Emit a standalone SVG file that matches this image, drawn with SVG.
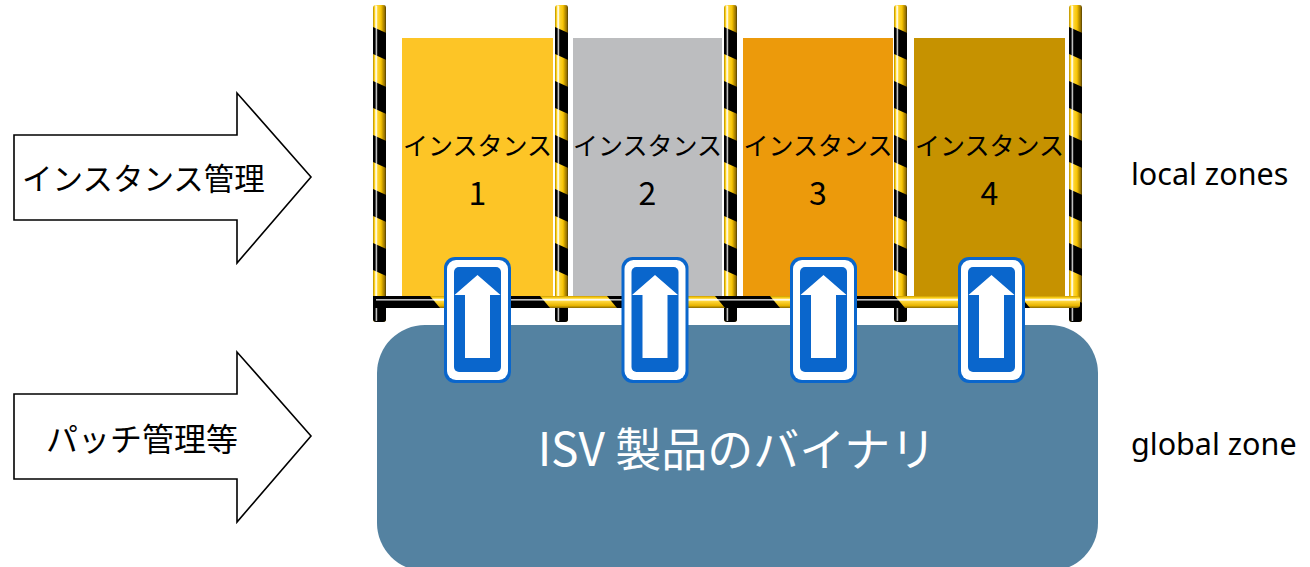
<svg xmlns="http://www.w3.org/2000/svg" width="1310" height="567" viewBox="0 0 1310 567">
  <defs>
    <style>
      .jp { font-family: "Noto Sans CJK JP", "Noto Sans", sans-serif; fill: #000; }
      .lbl { font-family: "Noto Sans", "Open Sans", sans-serif; font-size: 30.5px; fill: #000; }
      .inst { font-family: "Noto Sans CJK JP", "Noto Sans", sans-serif; font-size: 25px; fill: #000; text-anchor: middle; }
      .num { font-size: 32px; }
      .bigarrow { fill: #fff; stroke: #000; stroke-width: 1.6; stroke-linejoin: miter; }
      .sign-outer { fill: #0a66cc; }
      .sign-white { fill: #fff; }
    </style>
    <!-- pole shading across its width -->
    <linearGradient id="poleShade" x1="0" y1="0" x2="1" y2="0">
      <stop offset="0" stop-color="#b08a00"/>
      <stop offset="0.12" stop-color="#ffd21a"/>
      <stop offset="0.22" stop-color="#fff6c0"/>
      <stop offset="0.32" stop-color="#ffd83a"/>
      <stop offset="0.65" stop-color="#f6c200"/>
      <stop offset="0.9" stop-color="#c99700"/>
      <stop offset="1" stop-color="#7d6000"/>
    </linearGradient>
    <linearGradient id="poleDark" x1="0" y1="0" x2="1" y2="0">
      <stop offset="0" stop-color="#000" stop-opacity="0"/>
      <stop offset="0.6" stop-color="#000" stop-opacity="0"/>
      <stop offset="1" stop-color="#000" stop-opacity="0.35"/>
    </linearGradient>
    <!-- bar shading top to bottom -->
    <linearGradient id="barShade" x1="0" y1="0" x2="0" y2="1">
      <stop offset="0" stop-color="#c99a00"/>
      <stop offset="0.15" stop-color="#ffd21a"/>
      <stop offset="0.3" stop-color="#fff2b0"/>
      <stop offset="0.45" stop-color="#ffd63a"/>
      <stop offset="0.8" stop-color="#e8b400"/>
      <stop offset="1" stop-color="#8a6a00"/>
    </linearGradient>
    <!-- diagonal black bands on the poles -->
    <pattern id="poleStripes" patternUnits="userSpaceOnUse" x="0" y="27" width="20" height="54">
      <polygon points="0,0 20,9 20,36 0,27" fill="#000"/>
    </pattern>
    <!-- a single striped pole, 13px wide -->
    <g id="pole">
      <rect x="0" y="5" width="13" height="317" rx="3" fill="url(#poleShade)"/>
      <rect x="0" y="5" width="13" height="317" rx="3" fill="url(#poleStripes)"/>
      <rect x="2.6" y="6" width="1.6" height="315" fill="#fff" opacity="0.75"/>
      <rect x="0" y="5" width="13" height="317" rx="3" fill="url(#poleDark)"/>
    </g>
    <!-- one-way sign with an up arrow, centred on x=0 -->
    <g id="sign">
      <rect class="sign-outer" x="-33.5" y="257" width="67" height="126" rx="11"/>
      <rect class="sign-white" x="-30.5" y="260" width="61" height="120" rx="9"/>
      <rect class="sign-outer" x="-23.5" y="267" width="47" height="105" rx="5"/>
      <polygon class="sign-white" points="0,275 23,295 12.5,295 12.5,358 -12.5,358 -12.5,295 -23,295"/>
    </g>
  </defs>

  <!-- global zone base -->
  <g id="global-zone">
    <rect x="377" y="325" width="721" height="246" rx="48" fill="#5482a1"/>
    <text x="737" y="466" font-family="Noto Sans CJK JP, Noto Sans, sans-serif" font-size="46" fill="#fff" text-anchor="middle">ISV 製品のバイナリ</text>
  </g>

  <!-- instance panels -->
  <g id="instance-1">
    <rect x="402" y="38" width="151" height="262" fill="#fdc526"/>
    <text class="inst" x="477.5" y="155">インスタンス</text>
    <text class="inst num" x="477.5" y="205">1</text>
  </g>
  <g id="instance-2">
    <rect x="573" y="38" width="149" height="262" fill="#bcbdbf"/>
    <text class="inst" x="647.5" y="155">インスタンス</text>
    <text class="inst num" x="647.5" y="205">2</text>
  </g>
  <g id="instance-3">
    <rect x="743" y="38" width="150" height="262" fill="#ec9a0b"/>
    <text class="inst" x="818" y="155">インスタンス</text>
    <text class="inst num" x="818" y="205">3</text>
  </g>
  <g id="instance-4">
    <rect x="914" y="38" width="151" height="262" fill="#c69200"/>
    <text class="inst" x="989.5" y="155">インスタンス</text>
    <text class="inst num" x="989.5" y="205">4</text>
  </g>

  <!-- fence: striped poles and the striped crossbar -->
  <g id="fence">
    <use href="#pole" transform="translate(373,0)"/>
    <use href="#pole" transform="translate(555,0)"/>
    <use href="#pole" transform="translate(724,0)"/>
    <use href="#pole" transform="translate(894,0)"/>
    <use href="#pole" transform="translate(1069,0)"/>
    <g id="crossbar">
      <rect x="373" y="296" width="707" height="12" rx="3" fill="url(#barShade)"/>
      <polygon points="373,296 430,296 440,308 373,308" fill="#000"/>
      <polygon points="498,296 540,296 550,308 508,308" fill="#000"/>
      <polygon points="607,296 655,296 665,308 617,308" fill="#000"/>
      <polygon points="715,296 770,296 780,308 725,308" fill="#000"/>
      <polygon points="840,296 895,296 905,308 850,308" fill="#000"/>
      <polygon points="965,296 1020,296 1030,308 975,308" fill="#000"/>
      <rect x="376" y="299" width="700" height="1.6" fill="#fff" opacity="0.75"/>
    </g>
  </g>

  <!-- one-way signs between the zones -->
  <g id="signs">
    <use href="#sign" transform="translate(477.5,0)"/>
    <use href="#sign" transform="translate(655,0)"/>
    <use href="#sign" transform="translate(823.5,0)"/>
    <use href="#sign" transform="translate(991.5,0)"/>
  </g>

  <!-- block arrows on the left -->
  <g id="arrow-instance-mgmt">
    <polygon class="bigarrow" points="14,135 237,135 237,93 311,177 237,263 237,220 14,220"/>
    <text class="jp" x="22" y="190" font-size="30.5">インスタンス管理</text>
  </g>
  <g id="arrow-patch-mgmt">
    <polygon class="bigarrow" points="14,394 237,394 237,352 311,436 237,522 237,479 14,479"/>
    <text class="jp" x="46" y="451" font-size="32">パッチ管理等</text>
  </g>

  <!-- zone labels -->
  <g id="zone-labels">
    <text class="lbl" x="1131" y="185">local zones</text>
    <text class="lbl" x="1131" y="455">global zone</text>
  </g>
</svg>
